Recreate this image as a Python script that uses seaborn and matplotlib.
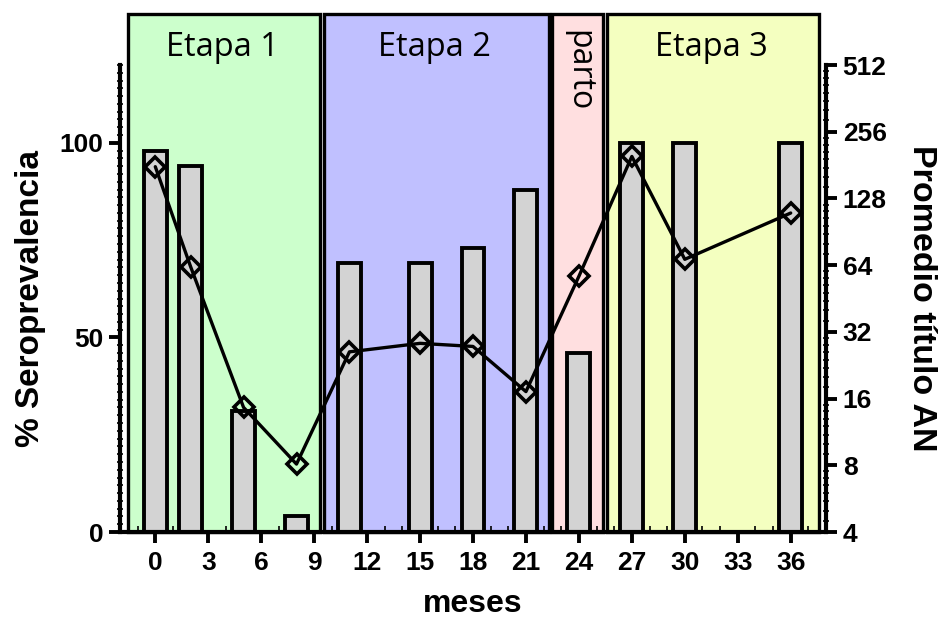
import numpy as np
import matplotlib
matplotlib.use("Agg")
import matplotlib.pyplot as plt
import matplotlib.ticker as mticker
import seaborn as sns

# data
meses = [0, 2, 5, 8, 11, 15, 18, 21, 24, 27, 30, 36]
seroprevalencia = [98, 94, 31, 4, 69, 69, 73, 88, 46, 100, 100, 100]
titulo_an = [178, 63, 14.6, 8.1, 26, 28.4, 27.5, 17.2, 57, 198, 68, 110]

etapas = ["Etapa 1", "Etapa 2", "parto", "Etapa 3"]
etapa_inicio = [-1.53, 9.58, 22.5, 25.57]
etapa_fin = [9.35, 22.28, 25.34, 37.6]
etapa_colores = ["#ccffcc", "#c0c0ff", "#ffdfe0", "#f4ffc0"]

x_ticks = list(range(0, 37, 3))
y2_ticks = [4, 8, 16, 32, 64, 128, 256, 512]

sns.set_style("ticks")
plt.rcParams["font.family"] = ["Liberation Sans", "DejaVu Sans"]
plt.rcParams.update({"text.color": "black", "axes.labelcolor": "black",
                     "xtick.color": "black", "ytick.color": "black",
                     "axes.edgecolor": "black"})

fig = plt.figure(figsize=(9.49, 6.22), dpi=100)
ax = fig.add_axes([120 / 949, (622 - 532) / 622, (826 - 120) / 949, (532 - 65) / 622])
ax.set_facecolor("none")

# stage boxes, reaching above the plot area
box_top = (532 - 14) / (532 - 65)
for name, x0, x1, col in zip(etapas, etapa_inicio, etapa_fin, etapa_colores):
    ax.axvspan(x0, x1, ymin=0, ymax=box_top, facecolor=col, edgecolor="black",
               linewidth=2.4, clip_on=False, zorder=0)
    xc = (x0 + x1) / 2
    if name == "parto":
        ax.text(xc + 0.05, (532 - 30) / 467, name, rotation=270, ha="center", va="top",
                fontsize=23, family=["Open Sans", "DejaVu Sans"],
                transform=ax.get_xaxis_transform(), zorder=1)
    else:
        ax.text(xc - 0.1, (532 - 47) / 467, name, ha="center", va="center",
                fontsize=23.5, family=["Open Sans", "DejaVu Sans"],
                transform=ax.get_xaxis_transform(), zorder=1)

sns.barplot(x=meses, y=seroprevalencia, native_scale=True, width=0.65,
            color="#d3d3d3", edgecolor="black", linewidth=2.8, errorbar=None,
            saturation=1, ax=ax, zorder=2)

ax.set_xlim(-2, 38)
ax.set_ylim(0, 120)
ax.set_xticks(x_ticks)
ax.set_yticks([0, 50, 100])
ax.xaxis.set_minor_locator(mticker.MultipleLocator(1))
ax.yaxis.set_minor_locator(mticker.MultipleLocator(2))
ax.tick_params(axis="both", which="major", labelsize=19, width=2.8, length=8,
               direction="out", pad=4)
ax.tick_params(axis="x", which="major", pad=6)
ax.tick_params(axis="x", which="minor", width=1.2, length=4, direction="in")
ax.tick_params(axis="y", which="minor", width=1.2, length=5, direction="inout")
for lab in ax.get_xticklabels() + ax.get_yticklabels():
    lab.set_fontweight("bold")

ax.set_xlabel("meses", fontsize=23, fontweight="bold", labelpad=10)
ax.set_ylabel("% Seroprevalencia", fontsize=24, fontweight="bold", labelpad=10)

for side in ["top", "right"]:
    ax.spines[side].set_visible(False)
for side in ["left", "bottom"]:
    ax.spines[side].set_linewidth(3)

# titer line on log2 axis
ax2 = ax.twinx()
sns.lineplot(x=meses, y=titulo_an, ax=ax2, color="black", linewidth=2.4,
             marker="D", markersize=10, markerfacecolor="none",
             markeredgecolor="black", markeredgewidth=2.6, zorder=5)
ax2.set_yscale("log", base=2)
ax2.set_ylim(4, 512)
ax2.set_yticks(y2_ticks)
ax2.yaxis.set_major_formatter(mticker.FuncFormatter(lambda v, p: f"{int(v)}"))
ax2.yaxis.set_minor_locator(mticker.LogLocator(base=2, subs=np.linspace(1, 2, 9)[1:-1]))
ax2.yaxis.set_minor_formatter(mticker.NullFormatter())
ax2.tick_params(axis="y", which="major", labelsize=19, width=2.8, length=8, pad=4)
ax2.tick_params(axis="y", which="minor", width=1.2, length=5, direction="inout")
for lab in ax2.get_yticklabels():
    lab.set_fontweight("bold")
ax2.set_ylabel("Promedio título AN", fontsize=24.5, fontweight="bold",
               rotation=270, labelpad=36)
for side in ["top", "left", "bottom"]:
    ax2.spines[side].set_visible(False)
ax2.spines["right"].set_linewidth(3)
ax2.set_xlim(-2, 38)

fig.savefig("out.png", dpi=100)
